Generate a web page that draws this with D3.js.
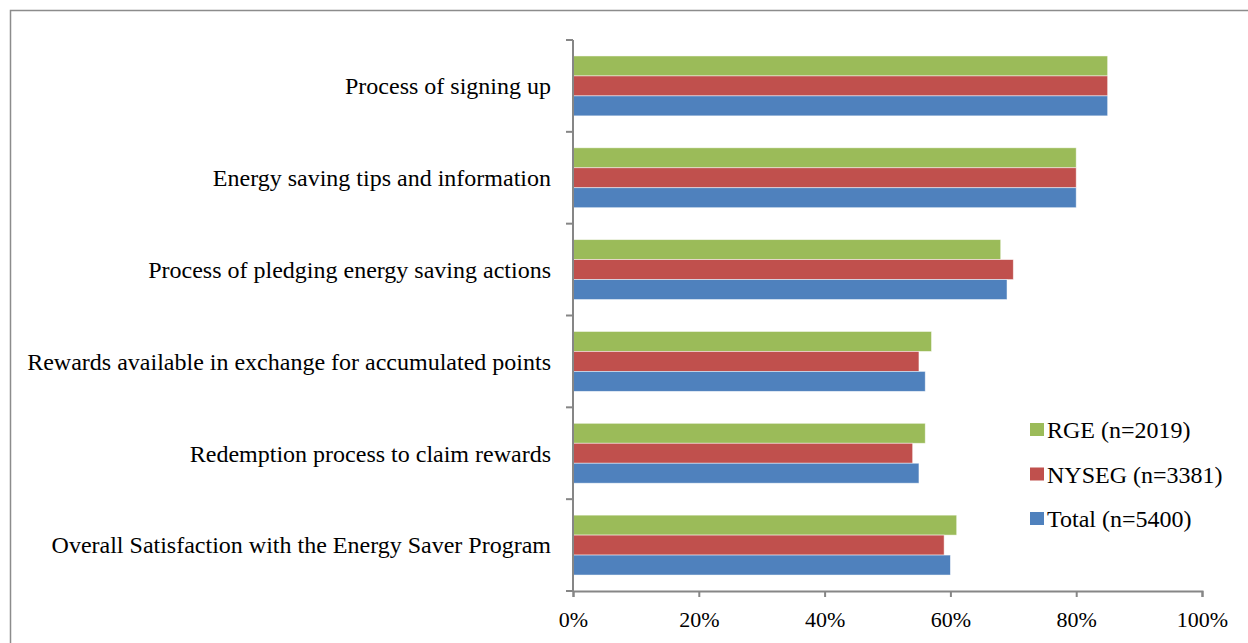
<!DOCTYPE html>
<html>
<head>
<meta charset="utf-8">
<script src="https://cdn.jsdelivr.net/npm/d3@7"></script>
<style>
  html, body { margin: 0; padding: 0; background: #fff; }
  svg { display: block; }
  text { font-family: "Liberation Serif", "Times New Roman", serif; fill: #000; }
</style>
</head>
<body>
<svg id="chart" width="1248" height="643"></svg>
<script>
// Survey items, listed top to bottom
const categories = [
  "Process of signing up",
  "Energy saving tips and information",
  "Process of pledging energy saving actions",
  "Rewards available in exchange for accumulated points",
  "Redemption process to claim rewards",
  "Overall Satisfaction with the Energy Saver Program"
];

// Share satisfied (%) per utility, same order as categories
const rgeValues   = [85, 80, 68, 57, 56, 61];
const nysegValues = [85, 80, 70, 55, 54, 59];
const totalValues = [85, 80, 69, 56, 55, 60];

const seriesNames  = ["RGE (n=2019)", "NYSEG (n=3381)", "Total (n=5400)"];
const seriesColors = ["#9BBB59", "#C0504D", "#4F81BD"];
const tickValues   = [0, 20, 40, 60, 80, 100];

const series = [rgeValues, nysegValues, totalValues];

const svg = d3.select("#chart");

// outer chart frame
svg.append("rect")
  .attr("x", 10.5).attr("y", 10.5)
  .attr("width", 1260).attr("height", 660)
  .attr("fill", "none").attr("stroke", "#8c8c8c").attr("stroke-width", 1.5);

const plot = { left: 573, right: 1202, top: 40, bottom: 591 };

const x = d3.scaleLinear().domain([0, 100]).range([plot.left, plot.right]);
const y = d3.scaleBand().domain(categories).range([plot.top, plot.bottom]);
const inner = d3.scaleBand().domain(d3.range(series.length))
  .range([0, y.bandwidth()]).paddingOuter(0.8).paddingInner(0);

// bars
const groups = svg.append("g").selectAll("g")
  .data(categories)
  .join("g")
  .attr("transform", d => `translate(0,${y(d)})`);

groups.selectAll("rect")
  .data((d, i) => series.map((s, k) => ({ k, v: s[i] })))
  .join("rect")
  .attr("x", x(0))
  .attr("y", d => inner(d.k))
  .attr("width", d => x(d.v) - x(0))
  .attr("height", inner.bandwidth())
  .attr("fill", d => seriesColors[d.k])
  .attr("stroke", "#ffffff")
  .attr("stroke-opacity", 0.6)
  .attr("stroke-width", 0.8);

// x axis
const xAxis = svg.append("g")
  .attr("transform", `translate(0,${plot.bottom})`)
  .call(d3.axisBottom(x).tickValues(tickValues).tickFormat(d => d + "%").tickSizeOuter(0).tickSize(6));
xAxis.select(".domain").attr("stroke", "#868686").attr("stroke-width", 2);
xAxis.selectAll(".tick line").attr("stroke", "#868686").attr("stroke-width", 2);
xAxis.selectAll("text")
  .attr("font-size", 22)
  .attr("dy", 0)
  .attr("y", 36)
  .style("font-family", '"Liberation Serif", serif')
  .attr("fill", "#000");

// y axis: ticks at band boundaries
const yAxisG = svg.append("g");
yAxisG.append("line")
  .attr("x1", plot.left).attr("x2", plot.left)
  .attr("y1", plot.top).attr("y2", plot.bottom)
  .attr("stroke", "#868686").attr("stroke-width", 2);
const boundaries = categories.map(c => y(c)).concat([plot.bottom]);
yAxisG.selectAll(".btick")
  .data(boundaries)
  .join("line")
  .attr("x1", plot.left - 7).attr("x2", plot.left)
  .attr("y1", d => d).attr("y2", d => d)
  .attr("stroke", "#868686").attr("stroke-width", 2);

svg.append("g").selectAll("text")
  .data(categories)
  .join("text")
  .attr("x", 551)
  .attr("y", d => y(d) + y.bandwidth() / 2)
  .attr("dy", "0.35em")
  .attr("text-anchor", "end")
  .attr("font-size", 24)
  .text(d => d);

// legend
const legend = svg.append("g").selectAll("g")
  .data(seriesNames)
  .join("g")
  .attr("transform", (d, i) => `translate(1030,${430 + i * 44.5})`);
legend.append("rect")
  .attr("x", 0).attr("y", -7)
  .attr("width", 14).attr("height", 13)
  .attr("fill", (d, i) => seriesColors[i]);
legend.append("text")
  .attr("x", 17).attr("y", 0).attr("dy", "0.35em")
  .attr("font-size", 24)
  .text(d => d);
</script>
</body>
</html>
